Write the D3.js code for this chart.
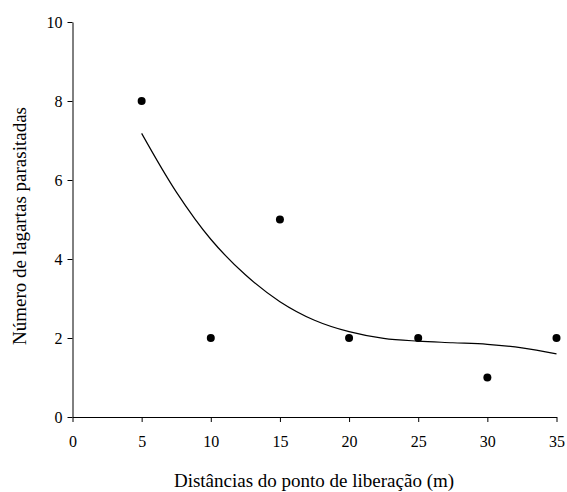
<!DOCTYPE html>
<html>
<head>
<meta charset="utf-8">
<script src="https://cdn.jsdelivr.net/npm/d3@7"></script>
<style>
  body { margin: 0; background: #fff; }
  .axis path, .axis line { stroke: #000; stroke-width: 1; }
</style>
</head>
<body>
<div id="chart"></div>
<script>
// pontos observados
const distances = [5, 10, 15, 20, 25, 30, 35]
const parasitized = [8, 2, 5, 2, 2, 1, 2]

// curva ajustada
const curveX = [5, 7.5, 10, 12.5, 15, 17.5, 20, 22.5, 25, 27.5, 30, 32.5, 35]
const curveY = [7.18, 5.7, 4.5, 3.6, 2.92, 2.45, 2.16, 1.99, 1.92, 1.88, 1.84, 1.75, 1.6]

const xTicks = [0, 5, 10, 15, 20, 25, 30, 35]
const yTicks = [0, 2, 4, 6, 8, 10]

const xTitle = "Distâncias do ponto de liberação (m)"
const yTitle = "Número de lagartas parasitadas"

const FONT = "Liberation Serif"
const W = 567, H = 492
const margin = { top: 22, right: 10, bottom: 75, left: 72.5 }

const svg = d3.select("#chart").append("svg")
    .attr("width", W)
    .attr("height", H)

const x = d3.scaleLinear().domain([0, 35]).range([margin.left, 556.5])
const y = d3.scaleLinear().domain([0, 10]).range([417, margin.top])

// eixo X
const gx = svg.append("g")
    .attr("class", "axis")
    .attr("transform", "translate(0," + y(0) + ")")
    .call(d3.axisBottom(x).tickValues(xTicks).tickSize(5).tickSizeOuter(0))
gx.selectAll("text")
    .attr("dy", "1.35em")
    .attr("fill", "#000")
    .attr("font-family", FONT)
    .attr("font-size", 16)

// eixo Y
const gy = svg.append("g")
    .attr("class", "axis")
    .attr("transform", "translate(" + x(0) + ",0)")
    .call(d3.axisLeft(y).tickValues(yTicks).tickSize(5).tickSizeOuter(0))
gy.selectAll("text")
    .attr("x", -10)
    .attr("fill", "#000")
    .attr("font-family", FONT)
    .attr("font-size", 16)

// curva
svg.append("path")
    .datum(curveX.map((d, i) => [d, curveY[i]]))
    .attr("fill", "none")
    .attr("stroke", "#000")
    .attr("stroke-width", 1.2)
    .attr("d", d3.line()
        .x(d => x(d[0]))
        .y(d => y(d[1]))
        .curve(d3.curveCatmullRom))

// pontos
svg.selectAll("circle.pt")
    .data(distances.map((d, i) => [d, parasitized[i]]))
    .join("circle")
    .attr("class", "pt")
    .attr("cx", d => x(d[0]))
    .attr("cy", d => y(d[1]))
    .attr("r", 4)
    .attr("fill", "#000")

// títulos
svg.append("text")
    .attr("x", 314)
    .attr("y", 487)
    .attr("text-anchor", "middle")
    .attr("font-family", FONT)
    .attr("font-size", 19)
    .text(xTitle)

svg.append("text")
    .attr("transform", "translate(26,226) rotate(-90)")
    .attr("text-anchor", "middle")
    .attr("font-family", FONT)
    .attr("font-size", 19)
    .text(yTitle)
</script>
</body>
</html>
